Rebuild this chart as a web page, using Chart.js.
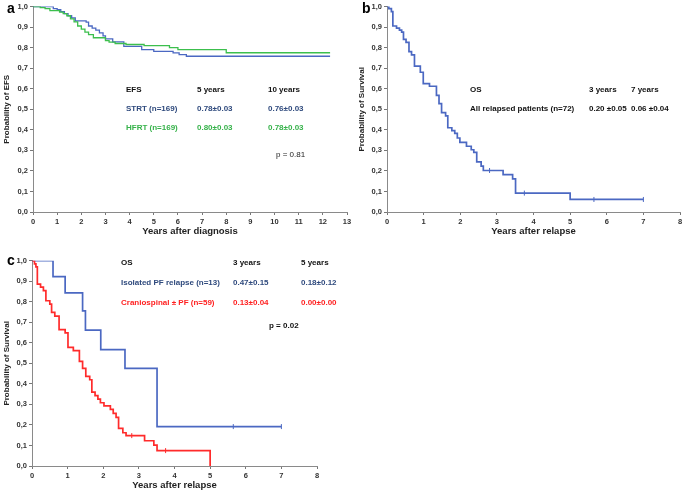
<!DOCTYPE html>
<html>
<head>
<meta charset="utf-8">
<script src="https://cdn.jsdelivr.net/npm/chart.js@4"></script>
<style>
  html, body { margin: 0; padding: 0; background: #fff; }
  body { width: 685px; height: 492px; position: relative; overflow: hidden;
         font-family: "Liberation Sans", Arial, sans-serif; }
  .cv { position: absolute; }
  .t { position: absolute; font-size: 8px; font-weight: bold; white-space: nowrap;
       line-height: 1; transform: translateY(-50%); color: #111; }
  .lab { position: absolute; font-size: 14px; font-weight: bold; line-height: 1;
         transform: translateY(-50%); color: #000; }
  .navy { color: #2f4a7d; }
  .green { color: #36b24a; }
  .red { color: #ff1f1f; }
</style>
</head>
<body>
<canvas id="ca" class="cv" width="355" height="238" style="left:0;top:0;width:355px;height:238px"></canvas>
<canvas id="cb" class="cv" width="330" height="238" style="left:355px;top:0;width:330px;height:238px"></canvas>
<canvas id="cc" class="cv" width="330" height="242" style="left:0;top:250px;width:330px;height:242px"></canvas>

<div class="lab" style="left:7px;top:8px">a</div>
<div class="lab" style="left:362px;top:8px">b</div>
<div class="lab" style="left:7px;top:260px">c</div>

<!-- panel a table -->
<div class="t" style="left:126px;top:90px">EFS</div>
<div class="t" style="left:197px;top:90px">5 years</div>
<div class="t" style="left:268px;top:90px">10 years</div>
<div class="t navy" style="left:126px;top:109px">STRT (n=169)</div>
<div class="t navy" style="left:197px;top:109px">0.78±0.03</div>
<div class="t navy" style="left:268px;top:109px">0.76±0.03</div>
<div class="t green" style="left:126px;top:128px">HFRT (n=169)</div>
<div class="t green" style="left:197px;top:128px">0.80±0.03</div>
<div class="t green" style="left:268px;top:128px">0.78±0.03</div>
<div class="t" style="left:276px;top:155px;font-weight:normal;color:#222">p = 0.81</div>

<!-- panel b table -->
<div class="t" style="left:470px;top:90px">OS</div>
<div class="t" style="left:589px;top:90px">3 years</div>
<div class="t" style="left:631px;top:90px">7 years</div>
<div class="t" style="left:470px;top:109px">All relapsed patients (n=72)</div>
<div class="t" style="left:589px;top:109px">0.20 ±0.05</div>
<div class="t" style="left:631px;top:109px">0.06 ±0.04</div>

<!-- panel c table -->
<div class="t" style="left:121px;top:263px">OS</div>
<div class="t" style="left:233px;top:263px">3 years</div>
<div class="t" style="left:301px;top:263px">5 years</div>
<div class="t navy" style="left:121px;top:283px">Isolated PF relapse (n=13)</div>
<div class="t navy" style="left:233px;top:283px">0.47±0.15</div>
<div class="t navy" style="left:301px;top:283px">0.18±0.12</div>
<div class="t red" style="left:121px;top:303px">Craniospinal ± PF (n=59)</div>
<div class="t red" style="left:233px;top:303px">0.13±0.04</div>
<div class="t red" style="left:301px;top:303px">0.00±0.00</div>
<div class="t" style="left:269px;top:326px">p = 0.02</div>

<script>
// ---- Panel a: EFS ----
const STRT_t = [0, 0.84, 1.0, 1.15, 1.3, 1.45, 1.6, 1.75, 2.2, 2.3, 2.45, 2.6, 2.75, 2.9, 3.0, 3.3, 3.76, 4.5, 5.0, 5.8, 6.05, 6.35, 12.3];
const STRT_s = [1.0, 0.99, 0.985, 0.975, 0.965, 0.955, 0.945, 0.93, 0.924, 0.905, 0.895, 0.885, 0.872, 0.857, 0.842, 0.828, 0.806, 0.79, 0.782, 0.774, 0.766, 0.758, 0.758];
const HFRT_t = [0, 0.3, 0.5, 0.7, 1.1, 1.25, 1.4, 1.55, 1.7, 1.85, 2.0, 2.15, 2.3, 2.5, 3.0, 3.15, 3.4, 3.85, 4.6, 5.65, 6.0, 8.0, 12.3];
const HFRT_s = [1.0, 0.995, 0.99, 0.98, 0.973, 0.965, 0.955, 0.94, 0.925, 0.905, 0.89, 0.875, 0.863, 0.848, 0.834, 0.827, 0.82, 0.815, 0.81, 0.80, 0.79, 0.775, 0.775];

// ---- Panel b: OS all relapsed ----
const REL_t = [0, 0.05, 0.12, 0.16, 0.26, 0.34, 0.4, 0.45, 0.52, 0.6, 0.67, 0.75, 0.91, 0.99, 1.16, 1.35, 1.42, 1.49, 1.6, 1.66, 1.77, 1.85, 1.92, 1.99, 2.17, 2.3, 2.37, 2.45, 2.57, 2.63, 3.17, 3.43, 3.51, 5.0, 7.0];
const REL_s = [1.0, 0.99, 0.975, 0.905, 0.895, 0.885, 0.875, 0.84, 0.825, 0.78, 0.765, 0.71, 0.68, 0.625, 0.612, 0.568, 0.527, 0.484, 0.468, 0.41, 0.396, 0.383, 0.36, 0.339, 0.32, 0.303, 0.29, 0.244, 0.223, 0.202, 0.182, 0.161, 0.092, 0.061, 0.061];
const REL_cens_t = [2.8, 3.75, 5.65, 7.0];
const REL_cens_s = [0.202, 0.092, 0.061, 0.061];

// ---- Panel c: OS by relapse type ----
const ISO_t = [0, 0.59, 0.93, 1.42, 1.5, 1.93, 2.61, 3.51, 7.0];
const ISO_s = [1.0, 0.922, 0.843, 0.756, 0.662, 0.567, 0.476, 0.192, 0.192];
const ISO_cens_t = [5.65, 7.0];
const ISO_cens_s = [0.192, 0.192];
const CS_t = [0, 0.07, 0.11, 0.15, 0.24, 0.32, 0.39, 0.5, 0.55, 0.64, 0.76, 0.93, 1.01, 1.16, 1.33, 1.42, 1.51, 1.62, 1.68, 1.77, 1.85, 1.92, 2.02, 2.2, 2.28, 2.36, 2.43, 2.55, 2.64, 3.16, 3.42, 3.51, 5.0];
const CS_s = [1.0, 0.985, 0.97, 0.886, 0.871, 0.854, 0.805, 0.788, 0.748, 0.73, 0.664, 0.648, 0.578, 0.562, 0.51, 0.476, 0.437, 0.42, 0.36, 0.343, 0.326, 0.308, 0.293, 0.276, 0.256, 0.237, 0.183, 0.162, 0.148, 0.123, 0.102, 0.075, 0.0];
const CS_cens_t = [2.8, 3.75];
const CS_cens_s = [0.148, 0.075];

const X_TICKS_A = 13;
const X_TICKS_BC = 8;
const Y_TICKS = [0, 0.1, 0.2, 0.3, 0.4, 0.5, 0.6, 0.7, 0.8, 0.9, 1.0];

const FONT = '"Liberation Sans", Arial, sans-serif';
const BLUE = '#4b68c2';
const GREEN = '#3cbf4d';
const RED = '#ff2b2b';

function pts(t, s) { return t.map((x, i) => ({ x: x, y: s[i] })); }

function curve(t, s, color, width) {
  return { data: pts(t, s), showLine: true, stepped: true, borderColor: color,
           borderWidth: width, pointRadius: 0, fill: false };
}
function cens(t, s, color) {
  return { data: pts(t, s), showLine: false, pointStyle: 'line', rotation: 90,
           pointRadius: 2.5, borderColor: color, borderWidth: 1, backgroundColor: color };
}

function makeChart(id, cfg) {
  const tickFont = { family: FONT, size: 7.5, weight: 'bold' };
  new Chart(document.getElementById(id), {
    type: 'scatter',
    data: { datasets: cfg.datasets },
    options: {
      responsive: false,
      animation: false,
      events: [],
      layout: { padding: cfg.padding },
      plugins: { legend: { display: false }, tooltip: { enabled: false } },
      scales: {
        x: {
          type: 'linear', min: 0, max: cfg.xMax,
          afterBuildTicks: (sc) => { sc.ticks = Array.from({ length: cfg.xMax + 1 }, (_, i) => ({ value: i })); },
          ticks: { font: tickFont, color: '#333', padding: 2, maxRotation: 0, autoSkip: false,
                   callback: (v) => String(v) },
          grid: { display: true, drawOnChartArea: false, drawTicks: true, tickLength: 3, color: '#777' },
          border: { display: true, color: '#8a8a8a', width: 1 },
          title: { display: true, text: cfg.xTitle, color: '#222',
                   font: { family: FONT, size: 9.5, weight: 'bold' }, padding: { top: 2, bottom: 1 } },
          afterFit: (sc) => { sc.height = cfg.xHeight; }
        },
        y: {
          type: 'linear', min: 0, max: 1,
          afterBuildTicks: (sc) => { sc.ticks = Y_TICKS.map(v => ({ value: v })); },
          ticks: { font: tickFont, color: '#333', padding: 2, autoSkip: false,
                   callback: (v) => Number(v).toFixed(1).replace('.', ',') },
          grid: { display: true, drawOnChartArea: false, drawTicks: true, tickLength: 3, color: '#777' },
          border: { display: true, color: '#8a8a8a', width: 1 },
          title: { display: true, text: cfg.yTitle, color: '#222',
                   font: { family: FONT, size: 8, weight: 'bold' }, padding: { top: 2, bottom: 2 } },
          afterFit: (sc) => { sc.width = cfg.yWidth; }
        }
      }
    }
  });
}

makeChart('ca', {
  xMax: X_TICKS_A, xTitle: 'Years after diagnosis', yTitle: 'Probability of EFS',
  padding: { left: 0, top: 5, right: 8, bottom: 0 }, yWidth: 33, xHeight: 26,
  datasets: [curve(HFRT_t, HFRT_s, GREEN, 1.3), curve(STRT_t, STRT_s, BLUE, 1.3)]
});

makeChart('cb', {
  xMax: X_TICKS_BC, xTitle: 'Years after relapse', yTitle: 'Probability of Survival',
  padding: { left: 0, top: 5, right: 4, bottom: 0 }, yWidth: 32, xHeight: 26,
  datasets: [curve(REL_t, REL_s, BLUE, 1.7), cens(REL_cens_t, REL_cens_s, BLUE)]
});

makeChart('cc', {
  xMax: X_TICKS_BC, xTitle: 'Years after relapse', yTitle: 'Probability of Survival',
  padding: { left: 0, top: 10.7, right: 13, bottom: 0 }, yWidth: 32, xHeight: 26,
  datasets: [curve(CS_t, CS_s, RED, 1.7), cens(CS_cens_t, CS_cens_s, RED),
             curve(ISO_t, ISO_s, BLUE, 1.7), cens(ISO_cens_t, ISO_cens_s, BLUE)]
});
</script>
</body>
</html>
